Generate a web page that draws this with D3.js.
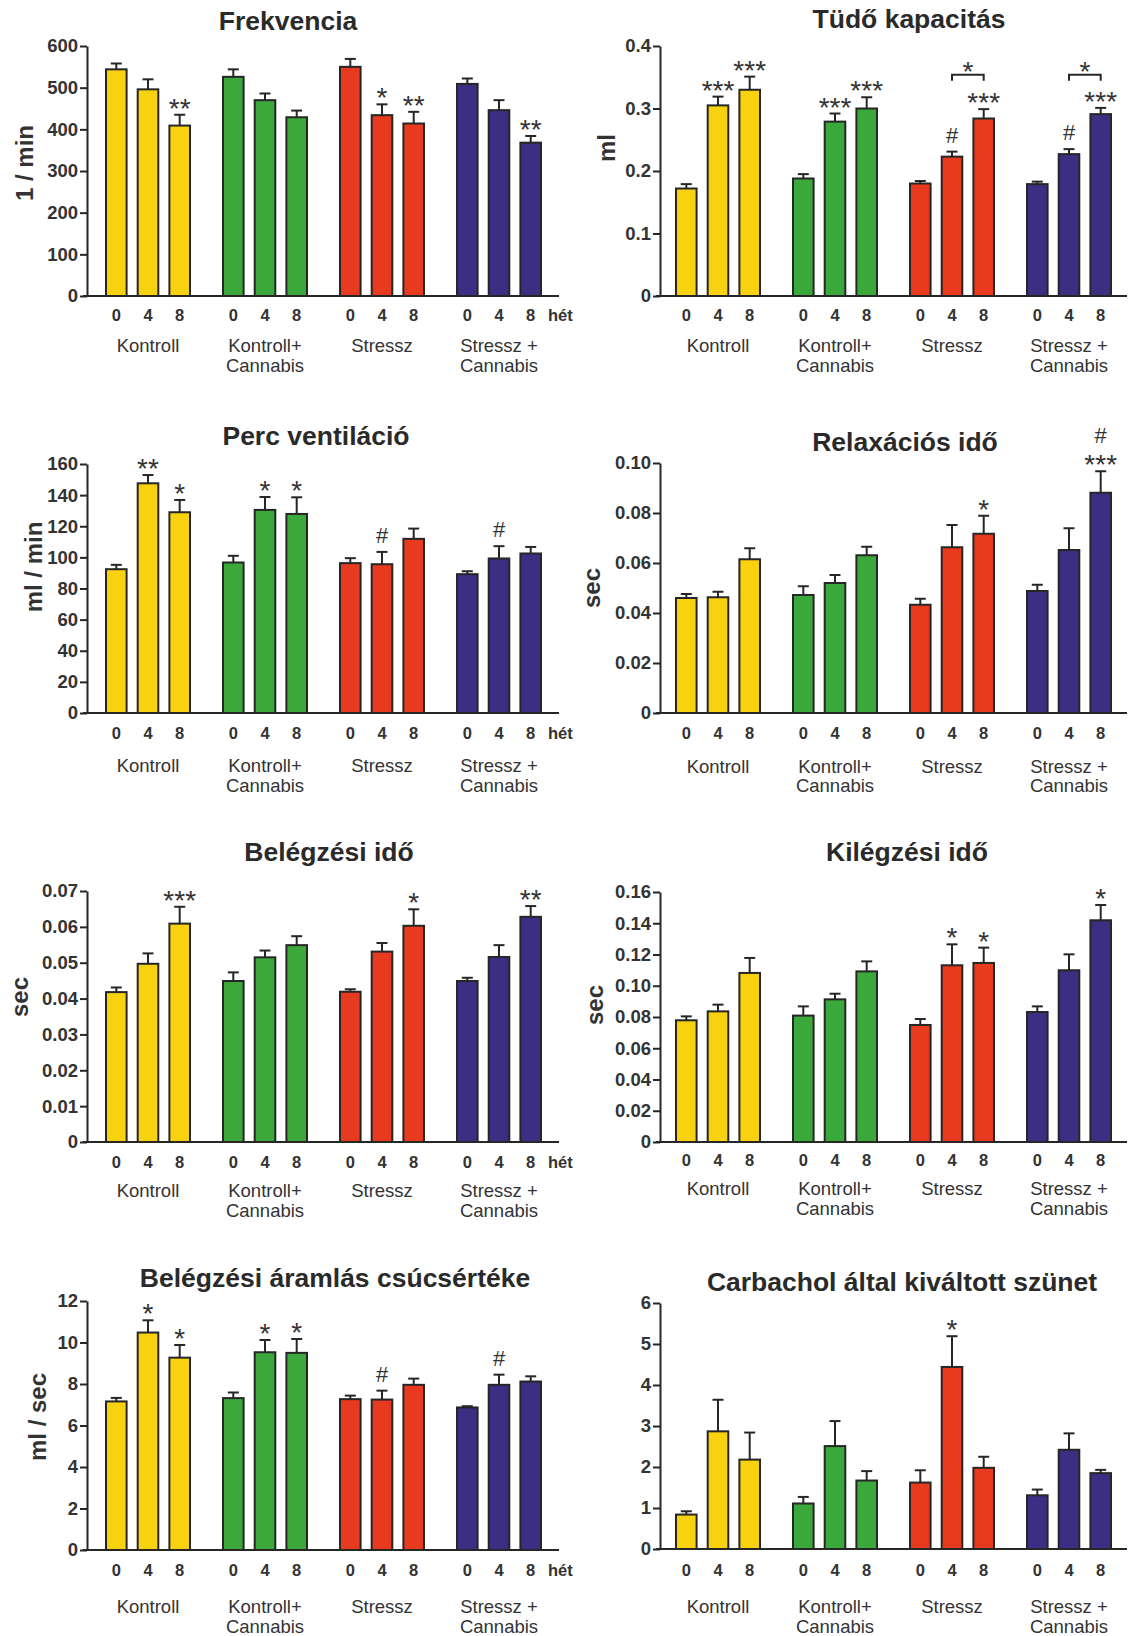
<!DOCTYPE html>
<html><head><meta charset="utf-8">
<script src="https://cdn.jsdelivr.net/npm/d3@7"></script>
<style>
body{margin:0;background:#fff;}
svg text{font-family:"Liberation Sans", Arial, Helvetica, sans-serif; fill:#333;}
</style></head><body>
<svg id="c" width="1128" height="1636"></svg>
<script>
// ---------- categories ----------
const groupKeys = ["K", "KC", "S", "SC"];
const groupLabels = [["Kontroll"], ["Kontroll+", "Cannabis"], ["Stressz"], ["Stressz +", "Cannabis"]];
const weeks = ["0", "4", "8"];
const weekUnit = "hét";
const groupColors = ["#f8d20f", "#3aa83a", "#e83a1f", "#3c2e82"];

// ---------- Frekvencia ----------
const frekvenciaTicks = [0, 100, 200, 300, 400, 500, 600];
const frekvenciaTickLabels = ["0", "100", "200", "300", "400", "500", "600"];
const frekvenciaMean = [544, 496, 409, 526, 470, 429, 550, 434, 414, 509, 446, 368];
const frekvenciaSem = [14, 24, 26, 18, 16, 16, 19, 26, 28, 13, 24, 16];
const frekvenciaSig = ["", "", "**", "", "", "", "", "*", "**", "", "", "**"];

// ---------- Tüdő kapacitás ----------
const tudoTicks = [0, 0.1, 0.2, 0.3, 0.4];
const tudoTickLabels = ["0", "0.1", "0.2", "0.3", "0.4"];
const tudoMean = [0.172, 0.305, 0.330, 0.188, 0.279, 0.300, 0.180, 0.223, 0.284, 0.179, 0.227, 0.291];
const tudoSem = [0.007, 0.014, 0.021, 0.007, 0.013, 0.018, 0.004, 0.008, 0.015, 0.004, 0.008, 0.010];
const tudoSig = ["", "***", "***", "", "***", "***", "", "#", "***", "", "#", "***"];
const tudoBrackets = [{ from: 7, to: 8, level: 0.354, label: "*" }, { from: 10, to: 11, level: 0.354, label: "*" }];

// ---------- Perc ventiláció ----------
const percTicks = [0, 20, 40, 60, 80, 100, 120, 140, 160];
const percTickLabels = ["0", "20", "40", "60", "80", "100", "120", "140", "160"];
const percMean = [92.4, 147.6, 129.0, 96.7, 130.5, 127.9, 96.3, 95.6, 111.9, 89.2, 99.3, 102.5];
const percSem = [2.8, 5.3, 7.9, 4.3, 8.3, 10.7, 3.2, 7.9, 6.6, 1.9, 7.9, 4.2];
const percSig = ["", "**", "*", "", "*", "*", "", "#", "", "", "#", ""];

// ---------- Relaxációs idő ----------
const relaxTicks = [0, 0.02, 0.04, 0.06, 0.08, 0.10];
const relaxTickLabels = ["0", "0.02", "0.04", "0.06", "0.08", "0.10"];
const relaxMean = [0.0460, 0.0463, 0.0615, 0.0472, 0.0520, 0.0631, 0.0433, 0.0663, 0.0717, 0.0488, 0.0652, 0.0881];
const relaxSem = [0.0016, 0.0022, 0.0044, 0.0035, 0.0032, 0.0034, 0.0024, 0.0089, 0.0072, 0.0025, 0.0087, 0.0086];
const relaxSig = ["", "", "", "", "", "", "", "", "*", "", "", "#\n***"];

// ---------- Belégzési idő ----------
const belegTicks = [0, 0.01, 0.02, 0.03, 0.04, 0.05, 0.06, 0.07];
const belegTickLabels = ["0", "0.01", "0.02", "0.03", "0.04", "0.05", "0.06", "0.07"];
const belegMean = [0.0418, 0.0497, 0.0609, 0.0449, 0.0515, 0.0549, 0.0419, 0.0531, 0.0603, 0.0449, 0.0516, 0.0628];
const belegSem = [0.0013, 0.0029, 0.0047, 0.0024, 0.0019, 0.0025, 0.0007, 0.0024, 0.0046, 0.0009, 0.0033, 0.0030];
const belegSig = ["", "", "***", "", "", "", "", "", "*", "", "", "**"];

// ---------- Kilégzési idő ----------
const kilegTicks = [0, 0.02, 0.04, 0.06, 0.08, 0.10, 0.12, 0.14, 0.16];
const kilegTickLabels = ["0", "0.02", "0.04", "0.06", "0.08", "0.10", "0.12", "0.14", "0.16"];
const kilegMean = [0.0779, 0.0836, 0.1082, 0.0809, 0.0913, 0.1092, 0.0749, 0.1131, 0.1146, 0.0832, 0.1099, 0.1419];
const kilegSem = [0.0025, 0.0043, 0.0096, 0.0059, 0.0036, 0.0064, 0.0038, 0.0134, 0.0098, 0.0036, 0.0102, 0.0098];
const kilegSig = ["", "", "", "", "", "", "", "*", "*", "", "", "*"];

// ---------- Belégzési áramlás csúcsértéke ----------
const aramTicks = [0, 2, 4, 6, 8, 10, 12];
const aramTickLabels = ["0", "2", "4", "6", "8", "10", "12"];
const aramMean = [7.16, 10.48, 9.27, 7.32, 9.53, 9.50, 7.27, 7.25, 7.96, 6.87, 7.96, 8.12];
const aramSem = [0.17, 0.59, 0.61, 0.27, 0.59, 0.67, 0.17, 0.43, 0.30, 0.06, 0.49, 0.25];
const aramSig = ["", "*", "*", "", "*", "*", "", "#", "", "", "#", ""];

// ---------- Carbachol által kiváltott szünet ----------
const carbTicks = [0, 1, 2, 3, 4, 5, 6];
const carbTickLabels = ["0", "1", "2", "3", "4", "5", "6"];
const carbMean = [0.84, 2.87, 2.18, 1.11, 2.51, 1.67, 1.62, 4.44, 1.98, 1.31, 2.42, 1.85];
const carbSem = [0.08, 0.77, 0.66, 0.16, 0.61, 0.23, 0.30, 0.75, 0.27, 0.14, 0.40, 0.08];
const carbSig = ["", "", "", "", "", "", "", "*", "", "", "", ""];

// ---------- panel definitions (data references) ----------
const panels = [
  { title: "Frekvencia", ylabel: "1 / min", ticks: frekvenciaTicks, tickLabels: frekvenciaTickLabels, mean: frekvenciaMean, sem: frekvenciaSem, sig: frekvenciaSig, brackets: [], het: true },
  { title: "Tüdő kapacitás", ylabel: "ml", ticks: tudoTicks, tickLabels: tudoTickLabels, mean: tudoMean, sem: tudoSem, sig: tudoSig, brackets: tudoBrackets, het: false },
  { title: "Perc ventiláció", ylabel: "ml / min", ticks: percTicks, tickLabels: percTickLabels, mean: percMean, sem: percSem, sig: percSig, brackets: [], het: true },
  { title: "Relaxációs idő", ylabel: "sec", ticks: relaxTicks, tickLabels: relaxTickLabels, mean: relaxMean, sem: relaxSem, sig: relaxSig, brackets: [], het: false },
  { title: "Belégzési idő", ylabel: "sec", ticks: belegTicks, tickLabels: belegTickLabels, mean: belegMean, sem: belegSem, sig: belegSig, brackets: [], het: true },
  { title: "Kilégzési idő", ylabel: "sec", ticks: kilegTicks, tickLabels: kilegTickLabels, mean: kilegMean, sem: kilegSem, sig: kilegSig, brackets: [], het: false },
  { title: "Belégzési áramlás csúcsértéke", ylabel: "ml / sec", ticks: aramTicks, tickLabels: aramTickLabels, mean: aramMean, sem: aramSem, sig: aramSig, brackets: [], het: true },
  { title: "Carbachol által kiváltott szünet", ylabel: "", ticks: carbTicks, tickLabels: carbTickLabels, mean: carbMean, sem: carbSem, sig: carbSig, brackets: [], het: false }
];

// ---------- layout (pixels) ----------
const cols = [
  { axisX: 87, barStart: 105, barEnd: 542, lineEnd: 559 },
  { axisX: 660, barStart: 675, barEnd: 1112, lineEnd: 1127 }
];
const pos = [
  { baseY: 296, topY: 46, titleX: 288, titleY: 21, ylx: 24, yly: 163, tickY: 315, g1: 345, g2: 365 },
  { baseY: 296, topY: 46, titleX: 909, titleY: 19, ylx: 606, yly: 148, tickY: 315, g1: 345, g2: 365 },
  { baseY: 713, topY: 464, titleX: 316, titleY: 436, ylx: 33, yly: 567, tickY: 733, g1: 765, g2: 785 },
  { baseY: 713, topY: 463, titleX: 905, titleY: 442, ylx: 591, yly: 588, tickY: 733, g1: 766, g2: 785 },
  { baseY: 1142, topY: 891, titleX: 329, titleY: 852, ylx: 19, yly: 997, tickY: 1162, g1: 1190, g2: 1210 },
  { baseY: 1142, topY: 892, titleX: 907, titleY: 852, ylx: 594, yly: 1005, tickY: 1160, g1: 1188, g2: 1208 },
  { baseY: 1550, topY: 1301, titleX: 335, titleY: 1278, ylx: 37, yly: 1417, tickY: 1570, g1: 1606, g2: 1626 },
  { baseY: 1549, topY: 1303, titleX: 902, titleY: 1282, ylx: 0, yly: 0, tickY: 1570, g1: 1606, g2: 1626 }
];

const svg = d3.select("#c");
const ink = "#262626";

panels.forEach((p, pi) => {
  const L = pos[pi];
  const C = cols[pi % 2];
  const g = svg.append("g");

  const y = d3.scaleLinear().domain([0, d3.max(p.ticks)]).range([L.baseY, L.topY]);
  const x0 = d3.scaleBand().domain(groupKeys).range([C.barStart, C.barEnd]).paddingInner(0.265).paddingOuter(0);
  const x1 = d3.scaleBand().domain(weeks).range([0, x0.bandwidth()]).paddingInner(0.287).paddingOuter(0);

  // title
  g.append("text").attr("x", L.titleX).attr("y", L.titleY).attr("text-anchor", "middle")
    .attr("dominant-baseline", "central").style("font-size", "26.5px").style("font-weight", "bold")
    .style("fill", "#2a2a2a").text(p.title);

  // y label
  if (p.ylabel) {
    g.append("text").attr("transform", `translate(${L.ylx},${L.yly}) rotate(-90)`)
      .attr("text-anchor", "middle").attr("dominant-baseline", "central")
      .style("font-size", "24px").style("font-weight", "bold").text(p.ylabel);
  }

  // y axis
  const yAxis = d3.axisLeft(y).tickValues(p.ticks).tickFormat((d, i) => p.tickLabels[i])
    .tickSize(7).tickSizeOuter(0).tickPadding(2);
  const ag = g.append("g").attr("transform", `translate(${C.axisX},0)`).call(yAxis);
  ag.select(".domain").attr("stroke", ink).attr("stroke-width", 2);
  ag.selectAll(".tick line").attr("stroke", ink).attr("stroke-width", 2);
  ag.selectAll(".tick text").style("font-size", "18.5px").style("font-weight", "bold")
    .style("font-family", "'Liberation Sans', Arial, sans-serif").attr("fill", "#333");

  // x baseline
  g.append("line").attr("x1", C.axisX - 4).attr("x2", C.lineEnd).attr("y1", L.baseY).attr("y2", L.baseY)
    .attr("stroke", ink).attr("stroke-width", 2);

  // bars
  const items = [];
  groupKeys.forEach((gk, gi) => weeks.forEach((w, wi) => {
    const i = gi * 3 + wi;
    items.push({ gk, gi, w, i, m: p.mean[i], s: p.sem[i], sig: p.sig[i] });
  }));
  const bw = x1.bandwidth();
  const bx = d => x0(d.gk) + x1(d.w);
  const cx = d => bx(d) + bw / 2;

  // error bars (upper only)
  g.selectAll(".eb").data(items).enter().append("line")
    .attr("x1", cx).attr("x2", cx).attr("y1", d => y(d.m)).attr("y2", d => y(d.m + d.s))
    .attr("stroke", ink).attr("stroke-width", 2);
  g.selectAll(".cap").data(items).enter().append("line")
    .attr("x1", d => cx(d) - 5.5).attr("x2", d => cx(d) + 5.5).attr("y1", d => y(d.m + d.s)).attr("y2", d => y(d.m + d.s))
    .attr("stroke", ink).attr("stroke-width", 2);

  g.selectAll(".bar").data(items).enter().append("rect")
    .attr("x", d => bx(d) + 1).attr("width", bw - 2)
    .attr("y", d => y(d.m)).attr("height", d => L.baseY - y(d.m))
    .attr("fill", d => groupColors[d.gi]).attr("stroke", ink).attr("stroke-width", 2);

  // significance marks (stacked lines, bottom line nearest the bar)
  items.filter(d => d.sig).forEach(d => {
    const lines = d.sig.split("\n").reverse();
    let center = y(d.m + d.s);
    lines.forEach((t, li) => {
      const isHash = t.startsWith("#");
      center -= (li === 0 ? (isHash ? 17 : 13) : 23);
      g.append("text").attr("x", cx(d)).attr("y", isHash ? center + 8 : center + 16)
        .attr("text-anchor", "middle").style("font-size", isHash ? "22px" : "28px")
        .style("fill", "#333").text(t);
    });
  });

  // brackets
  p.brackets.forEach(b => {
    const a = items[b.from], c = items[b.to];
    const by = y(b.level);
    g.append("path").attr("d", `M${cx(a)},${by + 6}V${by}H${cx(c)}V${by + 6}`)
      .attr("fill", "none").attr("stroke", ink).attr("stroke-width", 2);
    g.append("text").attr("x", (cx(a) + cx(c)) / 2).attr("y", by - 10 + 16)
      .attr("text-anchor", "middle").style("font-size", "28px").text(b.label);
  });

  // x tick labels (weeks)
  items.forEach(d => {
    g.append("text").attr("x", cx(d)).attr("y", L.tickY).attr("text-anchor", "middle")
      .attr("dominant-baseline", "central").style("font-size", "16.5px").style("font-weight", "bold").text(d.w);
  });
  if (p.het) {
    g.append("text").attr("x", C.barEnd + 6).attr("y", L.tickY).attr("dominant-baseline", "central")
      .style("font-size", "16.5px").style("font-weight", "bold").text(weekUnit);
  }

  // group labels
  groupKeys.forEach((gk, gi) => {
    const gx = x0(gk) + x0.bandwidth() / 2;
    groupLabels[gi].forEach((ln, li) => {
      g.append("text").attr("x", gx).attr("y", li === 0 ? L.g1 : L.g2).attr("text-anchor", "middle")
        .attr("dominant-baseline", "central").style("font-size", "18.5px").text(ln);
    });
  });
});
</script>
</body></html>
